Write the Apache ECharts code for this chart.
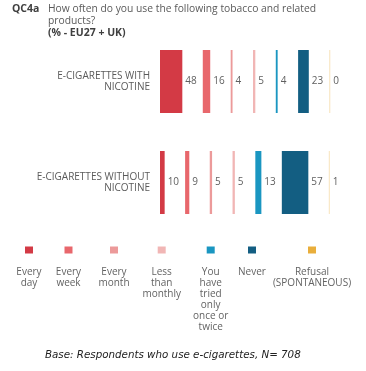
<!DOCTYPE html>
<html><head><meta charset="utf-8">
<script src="https://cdn.jsdelivr.net/npm/echarts@6/dist/echarts.min.js"></script>
<style>html,body{margin:0;padding:0;background:#fff}#c{width:366px;height:371px}</style>
</head><body><div id="c"></div>
<script>
// ---- data ----
const categories = ['E-CIGARETTES WITH\nNICOTINE', 'E-CIGARETTES WITHOUT\nNICOTINE'];
const seriesNames = ['Every day', 'Every week', 'Every month', 'Less than monthly',
  'You have tried only once or twice', 'Never', 'Refusal (SPONTANEOUS)'];
const everyDay = [48, 10];
const everyWeek = [16, 9];
const everyMonth = [4, 5];
const lessThanMonthly = [5, 5];
const triedOnce = [4, 13];
const never = [23, 57];
const refusal = [0, 1];
const legendLines = [['Every', 'day'], ['Every', 'week'], ['Every', 'month'], ['Less', 'than', 'monthly'],
  ['You', 'have', 'tried', 'only', 'once or', 'twice'], ['Never'], ['Refusal', '(SPONTANEOUS)']];

// ---- layout / style ----
const FONT = 'Open Sans';
const GAP = 44; // spacer between bars, in axis units
const colors = ['#D33A45', '#E8676C', '#EC9A9A', '#F1B6B5', '#1A96C1', '#135E82', '#E9AE3B'];
const legendCenters = [29, 68.5, 114, 161.7, 210.7, 252, 312];

const values = [everyDay, everyWeek, everyMonth, lessThanMonthly, triedOnce, never, refusal];
const series = [];
values.forEach((v, i) => {
  series.push({
    name: seriesNames[i], type: 'bar', stack: 't', data: v, barWidth: 63,
    barMinHeight: i === 6 ? 1 : 0,
    itemStyle: { color: colors[i], opacity: i === 6 ? 0.35 : 1 },
    label: { show: true, position: 'right', distance: 3, color: '#5f5f5f', fontSize: 10, fontFamily: FONT, opacity: 1 }
  });
  if (i < values.length - 1) {
    series.push({
      name: 'gap' + i, type: 'bar', stack: 't', data: categories.map(() => GAP),
      itemStyle: { color: 'rgba(0,0,0,0)' }, silent: true, label: { show: false }
    });
  }
});

const legends = seriesNames.map((name, i) => {
  const w = Math.min(80, 2 * (legendCenters[i] - 5));
  const rich = {
    sq: { width: 8, height: 7, backgroundColor: colors[i], align: 'center' },
    sp: { width: w, fontSize: 10, lineHeight: 13.5, color: 'rgba(0,0,0,0)' },
    t: { width: w, align: 'center', color: '#636363', fontSize: 10, fontFamily: FONT, lineHeight: 11 }
  };
  return {
    data: [name], left: legendCenters[i] - 5 - w / 2, top: 244, padding: 0,
    icon: 'none', itemWidth: 0, itemHeight: 0, selectedMode: false,
    formatter: () => '{sq|}\n{sp| }\n' + legendLines[i].map(s => '{t|' + s + '}').join('\n'),
    textStyle: { rich: rich }
  };
});

const chart = echarts.init(document.getElementById('c'), null, { renderer: 'canvas' });
chart.setOption({
  animation: false,
  backgroundColor: '#fff',
  title: [
    { text: 'QC4a', left: 12, top: 3.5, padding: 0,
      textStyle: { fontSize: 10.5, fontWeight: 'bold', color: '#404040', fontFamily: FONT, lineHeight: 12 } },
    { text: 'How often do you use the following tobacco and related\nproducts?\n{b|(% - EU27 + UK)}',
      left: 48, top: 3.5, padding: 0,
      textStyle: { fontSize: 10.3, fontWeight: 'normal', color: '#5a5a5a', fontFamily: FONT, lineHeight: 12,
        rich: { b: { fontSize: 10.5, fontWeight: 'bold', color: '#404040', fontFamily: FONT, lineHeight: 12 } } } },
    { text: 'Base: Respondents who use e-cigarettes, N= 708', left: 45, top: 349, padding: 0,
      textStyle: { fontSize: 10.3, fontStyle: 'italic', fontWeight: 'normal', color: '#222', fontFamily: 'DejaVu Sans', lineHeight: 13 } }
  ],
  legend: legends,
  grid: { left: 160, top: 31, width: 186, height: 202 },
  xAxis: { type: 'value', min: 0, max: 400, show: false },
  yAxis: {
    type: 'category', data: categories, inverse: true,
    axisLine: { show: false }, axisTick: { show: false }, splitLine: { show: false },
    axisLabel: { color: '#5a5a5a', fontSize: 10, fontFamily: FONT, lineHeight: 10.5, margin: 10, align: 'right' }
  },
  series: series
});
</script></body></html>
